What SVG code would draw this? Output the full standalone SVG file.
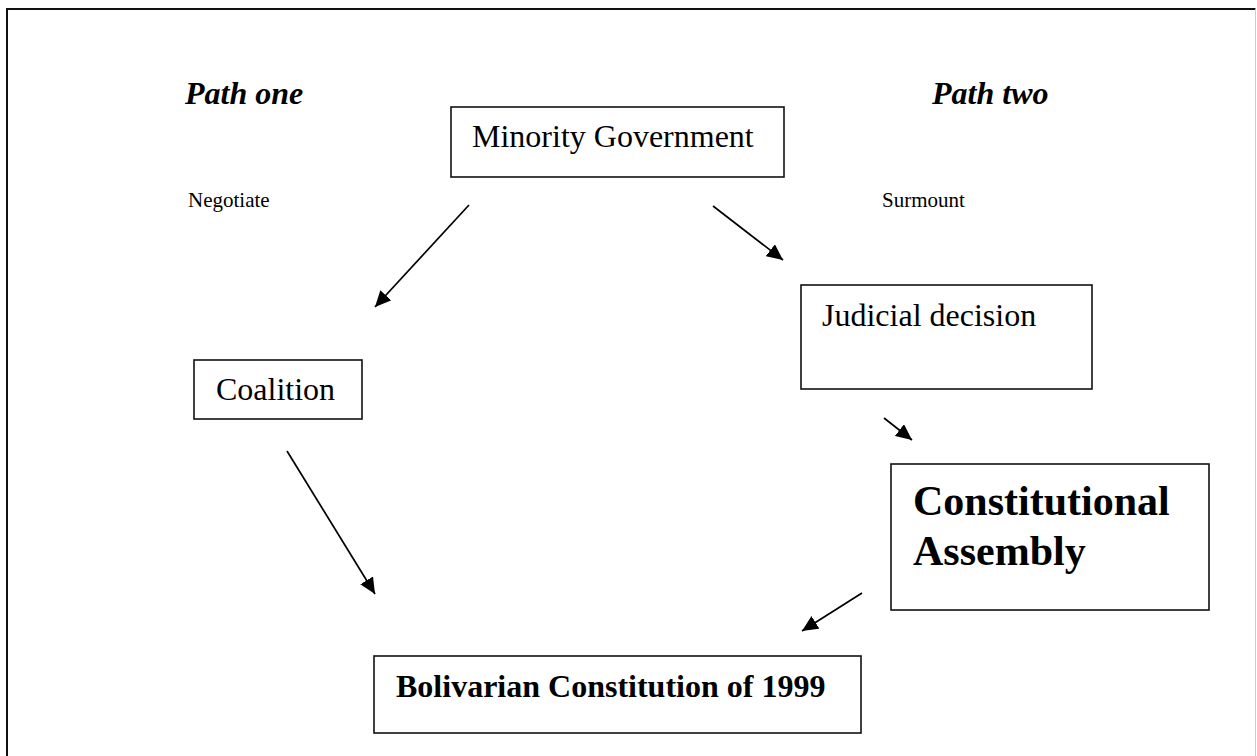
<svg xmlns="http://www.w3.org/2000/svg" width="1257" height="756" viewBox="0 0 1257 756">
<style>
.box{fill:#fff;stroke:#111;stroke-width:1.6}
.t{font-family:"Liberation Serif","Times New Roman",serif;fill:#000}
.n{font-size:32px}
.b{font-size:32px;font-weight:bold}
.bb{font-size:42px;font-weight:bold}
.h{font-size:32px;font-weight:bold;font-style:italic}
.s{font-size:21px}
.c{stroke:#000;stroke-width:1.7;fill:none;marker-end:url(#ah)}
</style>
<defs>
<marker id="ah" markerUnits="userSpaceOnUse" markerWidth="17" markerHeight="15" viewBox="0 0 17 15" refX="16" refY="7.5" orient="auto">
<path d="M0,0 L16,7.5 L0,15 Z" fill="#000"/>
</marker>
</defs>
<rect width="1257" height="756" fill="#fff"/>
<path d="M7,760 V9 H1255.5" fill="none" stroke="#111" stroke-width="2"/>
<line x1="1255.5" y1="9" x2="1255.5" y2="760" stroke="#ccc" stroke-width="1"/>
<g id="labels">
<text class="t h" x="185" y="104">Path one</text>
<text class="t h" x="932" y="104">Path two</text>
<text class="t s" x="188" y="207">Negotiate</text>
<text class="t s" x="882" y="207">Surmount</text>
</g>
<g id="minority">
<rect class="box" x="451" y="107" width="333" height="70"/>
<text class="t n" x="472" y="147">Minority Government</text>
</g>
<g id="judicial">
<rect class="box" x="801" y="285" width="291" height="104"/>
<text class="t n" x="822" y="326">Judicial decision</text>
</g>
<g id="coalition">
<rect class="box" x="194" y="360" width="168" height="59"/>
<text class="t n" x="216" y="400">Coalition</text>
</g>
<g id="assembly">
<rect class="box" x="891" y="464" width="318" height="146"/>
<text class="t bb" x="913" y="515">Constitutional</text>
<text class="t bb" x="913" y="565">Assembly</text>
</g>
<g id="bolivarian">
<rect class="box" x="374" y="656" width="487" height="77"/>
<text class="t b" x="396" y="697">Bolivarian Constitution of 1999</text>
</g>
<g id="connectors">
<line class="c" x1="469" y1="205" x2="375" y2="307"/>
<line class="c" x1="713" y1="206" x2="783" y2="260"/>
<line class="c" x1="884" y1="418" x2="912" y2="440"/>
<line class="c" x1="287" y1="451" x2="375" y2="594"/>
<line class="c" x1="862" y1="593" x2="802" y2="631"/>
</g>
</svg>
